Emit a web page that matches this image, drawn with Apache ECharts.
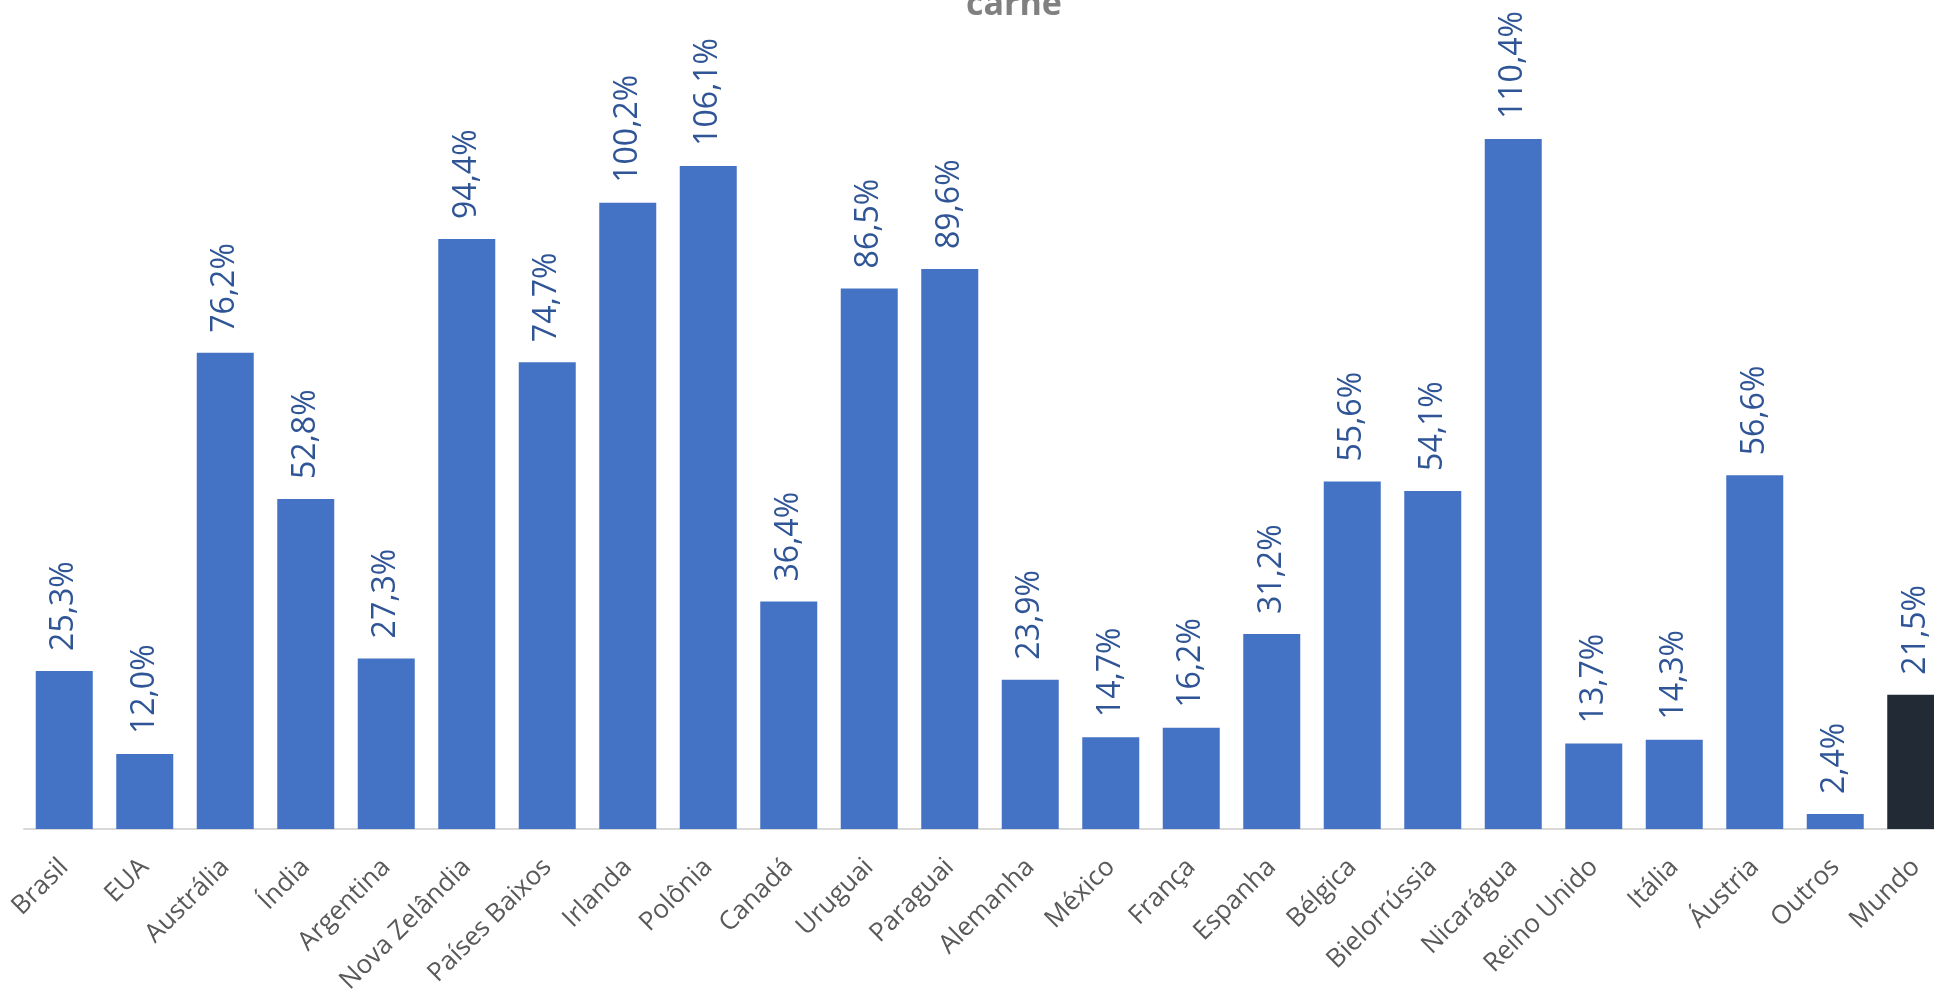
<!DOCTYPE html>
<html>
<head>
<meta charset="utf-8">
<script src="https://cdn.jsdelivr.net/npm/echarts@6/dist/echarts.min.js"></script>
<style>
  html, body { margin: 0; padding: 0; background: #fff; }
  #chartArea { width: 1934px; height: 991px; }
</style>
</head>
<body>
<div id="chartArea"></div>
<script>
// categorias e valores (%)
const paises = ['Brasil', 'EUA', 'Austrália', 'Índia', 'Argentina', 'Nova Zelândia', 'Países Baixos',
  'Irlanda', 'Polônia', 'Canadá', 'Uruguai', 'Paraguai', 'Alemanha', 'México', 'França', 'Espanha',
  'Bélgica', 'Bielorrússia', 'Nicarágua', 'Reino Unido', 'Itália', 'Áustria', 'Outros', 'Mundo'];
const valores = [25.3, 12.0, 76.2, 52.8, 27.3, 94.4, 74.7, 100.2, 106.1, 36.4, 86.5, 89.6,
  23.9, 14.7, 16.2, 31.2, 55.6, 54.1, 110.4, 13.7, 14.3, 56.6, 2.4, 21.5];
const destaque = 'Mundo';

const fonte = '"Open Sans", sans-serif';

let dados = valores.map((v, i) => {
  if (paises[i] === destaque) {
    return { value: v, itemStyle: { color: '#222A35' } };
  }
  return v;
});

let option = {
  animation: false,
  title: {
    text: 'carne',
    left: 1014,
    top: -12,
    padding: 0,
    textAlign: 'center',
    textStyle: { fontFamily: fonte, fontSize: 34, fontWeight: 'bold', color: '#808080' }
  },
  grid: { left: 24, top: 79, width: 1932, bottom: 162, containLabel: false, outerBoundsMode: 'none' },
  xAxis: {
    type: 'category',
    data: paises,
    axisLine: { lineStyle: { color: '#D9D9D9', width: 2 } },
    axisTick: { show: false },
    axisLabel: {
      interval: 0,
      rotate: 45,
      margin: 34,
      fontFamily: fonte,
      fontSize: 26,
      color: '#595959'
    }
  },
  yAxis: {
    type: 'value',
    min: 0,
    max: 120,
    show: false,
    splitLine: { show: false }
  },
  series: [{
    type: 'bar',
    data: dados,
    barWidth: 57,
    itemStyle: { color: '#4472C4' },
    label: {
      show: true,
      position: 'top',
      rotate: 90,
      align: 'left',
      verticalAlign: 'middle',
      distance: 20,
      fontFamily: fonte,
      fontSize: 32,
      color: '#2F5597',
      formatter: p => p.value.toFixed(1).replace('.', ',') + '%'
    }
  }]
};

let myChart = echarts.init(document.getElementById('chartArea'));
myChart.setOption(option);
</script>
</body>
</html>
